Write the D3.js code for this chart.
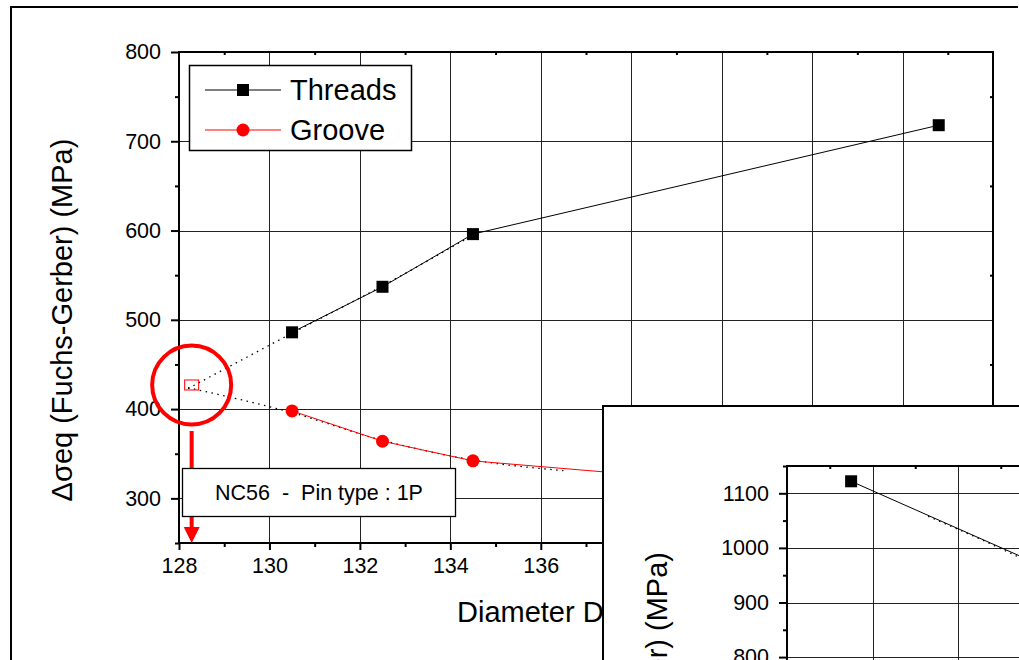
<!DOCTYPE html>
<html><head><meta charset="utf-8">
<script src="https://cdn.jsdelivr.net/npm/d3@7"></script>
<style>body{margin:0;background:#fff}svg{display:block}text{font-family:"Liberation Sans",Arial,sans-serif;fill:#000}</style>
</head><body><svg id="c" width="1019" height="660"></svg>
<script>
// ---- data ----
const threadsX = [130.5, 132.5, 134.5, 144.8];
const threadsY = [486, 537, 596, 718];
const grooveX = [130.5, 132.5, 134.5, 144.8];
const grooveY = [398, 364, 342, 298];
const threadsFitX = [128.2, 130.5, 132.5, 134.5];
const threadsFitY = [423, 485, 538, 595];
const grooveFitX = [128.2, 130.5, 132.5, 134.5, 136.5];
const grooveFitY = [424, 396, 365, 343, 331];
const xMajor = [128, 130, 132, 134, 136, 138, 140, 142, 144, 146];
const xMinor = [129, 131, 133, 135, 137, 139, 141, 143, 145];
const yMajor = [300, 400, 500, 600, 700, 800];
const yMinor = [250, 350, 450, 550, 650, 750];
const legendLabels = ["Threads", "Groove"];
const annotationText = "NC56  -  Pin type : 1P";
const xTitle = "Diameter D (mm)";
const yTitle = "\u0394\u03c3eq (Fuchs-Gerber) (MPa)";
const extrapX = 128.28, extrapY = 427;
// inset
const insetX = [129.5, 134.0];
const insetY = [1122, 966];
const insetFitX = [131.3, 132.5, 133.4, 134.0];
const insetFitY = [1058, 1017, 984, 963];
const insetYMajor = [800, 900, 1000, 1100];
const insetYMinor = [850, 950, 1050, 1150];
const insetXMajor = [128, 130, 132, 134];
const insetXMinor = [129, 131, 133];

const svg = d3.select("#c");
const FONT = '"Liberation Sans",Arial,sans-serif';

// scales
const x = d3.scaleLinear().domain([128, 146]).range([179, 993]);
const y = d3.scaleLinear().domain([250, 800]).range([543, 52]);
const L = x.range()[0], R = x.range()[1], T = y.range()[1], B = y.range()[0];

// outer border
svg.append("path").attr("d", "M11,700V7H1018").attr("fill", "none").attr("stroke", "#000").attr("stroke-width", 2);

// grid
const g = svg.append("g");
g.selectAll(".vg").data(xMajor.filter(d => d > 128 && d < 146)).join("line")
  .attr("x1", d => Math.round(x(d)) + 0.5).attr("x2", d => Math.round(x(d)) + 0.5)
  .attr("y1", T).attr("y2", B).attr("stroke", "#222").attr("stroke-width", 1);
g.selectAll(".hg").data(yMajor.filter(d => d < 800)).join("line")
  .attr("y1", d => Math.round(y(d)) + 0.5).attr("y2", d => Math.round(y(d)) + 0.5)
  .attr("x1", L).attr("x2", R).attr("stroke", "#222").attr("stroke-width", 1);

// axes
function styleAxis(sel) {
  sel.select(".domain").remove();
  sel.selectAll("line").attr("stroke", "#000").attr("stroke-width", 2);
  sel.selectAll("text").attr("font-size", 21.5).attr("font-family", FONT).attr("fill", "#000");
}
svg.append("g").attr("transform", `translate(0,${B})`)
  .call(d3.axisBottom(x).tickValues(xMajor).tickSize(7).tickPadding(8).tickFormat(d3.format("d"))).call(styleAxis);
svg.append("g").attr("transform", `translate(0,${B})`)
  .call(d3.axisBottom(x).tickValues(xMinor).tickSize(4).tickFormat("")).call(styleAxis);
svg.append("g").attr("transform", `translate(${L},0)`)
  .call(d3.axisLeft(y).tickValues(yMajor).tickSize(8).tickPadding(10).tickFormat(d3.format("d"))).call(styleAxis);
svg.append("g").attr("transform", `translate(${L},0)`)
  .call(d3.axisLeft(y).tickValues(yMinor).tickSize(4).tickFormat("")).call(styleAxis);
svg.append("g").attr("transform", `translate(0,${T})`)
  .call(d3.axisBottom(x).tickValues(xMinor).tickSize(3).tickFormat("")).call(styleAxis);
svg.append("g").attr("transform", `translate(${R},0)`)
  .call(d3.axisLeft(y).tickValues(yMinor).tickSize(3).tickFormat("")).call(styleAxis);

// frame
svg.append("rect").attr("x", L).attr("y", T).attr("width", R - L).attr("height", B - T)
  .attr("fill", "none").attr("stroke", "#000").attr("stroke-width", 2);

// fits (dotted)
const line = d3.line().x(d => x(d[0])).y(d => y(d[1])).curve(d3.curveMonotoneX);
svg.append("path").attr("d", line(d3.zip(threadsFitX, threadsFitY))).attr("fill", "none")
  .attr("stroke", "#000").attr("stroke-width", 1.3).attr("stroke-dasharray", "1.5,4.5");
svg.append("path").attr("d", line(d3.zip(grooveFitX, grooveFitY))).attr("fill", "none")
  .attr("stroke", "#000").attr("stroke-width", 1.3).attr("stroke-dasharray", "1.5,4.5");

// data lines
const lin = d3.line().x(d => x(d[0])).y(d => y(d[1]));
svg.append("path").attr("d", lin(d3.zip(threadsX, threadsY))).attr("fill", "none").attr("stroke", "#000").attr("stroke-width", 1);
svg.append("path").attr("d", lin(d3.zip(grooveX, grooveY))).attr("fill", "none").attr("stroke", "#f00").attr("stroke-width", 1);
svg.selectAll(".sq").data(d3.zip(threadsX, threadsY)).join("rect")
  .attr("x", d => x(d[0]) - 6).attr("y", d => y(d[1]) - 6).attr("width", 12).attr("height", 12).attr("fill", "#000");
svg.selectAll(".ci").data(d3.zip(grooveX, grooveY)).join("circle")
  .attr("cx", d => x(d[0])).attr("cy", d => y(d[1])).attr("r", 6.5).attr("fill", "#f00");

// legend
const lg = svg.append("g");
lg.append("rect").attr("x", 189.5).attr("y", 65.5).attr("width", 222).attr("height", 85)
  .attr("fill", "#fff").attr("stroke", "#000").attr("stroke-width", 1.5);
const legY = [90, 130], legCol = ["#000", "#f00"];
legendLabels.forEach((lab, i) => {
  lg.append("line").attr("x1", 205).attr("x2", 281).attr("y1", legY[i]).attr("y2", legY[i]).attr("stroke", legCol[i]).attr("stroke-width", 1);
  if (i === 0) lg.append("rect").attr("x", 237).attr("y", legY[i] - 6).attr("width", 12).attr("height", 12).attr("fill", "#000");
  else lg.append("circle").attr("cx", 243).attr("cy", legY[i]).attr("r", 6.5).attr("fill", "#f00");
  lg.append("text").attr("x", 290).attr("y", legY[i] + 10).attr("font-size", 29).text(lab);
});

// annotation: extrapolated point, circle, arrow
const ex = x(extrapX), ey = y(extrapY);
svg.append("rect").attr("x", ex - 7).attr("y", ey - 5).attr("width", 14).attr("height", 10)
  .attr("fill", "none").attr("stroke", "#f00").attr("stroke-width", 1);
svg.append("circle").attr("cx", ex).attr("cy", ey).attr("r", 39.5).attr("fill", "none").attr("stroke", "#f00").attr("stroke-width", 4);
svg.append("line").attr("x1", ex).attr("x2", ex).attr("y1", ey + 46).attr("y2", B - 14).attr("stroke", "#f00").attr("stroke-width", 4);
svg.append("path").attr("d", `M${ex - 8},${B - 16}L${ex + 8},${B - 16}L${ex},${B}Z`).attr("fill", "#f00");

// annotation box
svg.append("rect").attr("x", 182.5).attr("y", 468.5).attr("width", 273).attr("height", 48)
  .attr("fill", "#fff").attr("stroke", "#000").attr("stroke-width", 1.3);
svg.append("text").attr("x", 319).attr("y", 500).attr("text-anchor", "middle").attr("font-size", 21.5)
  .style("white-space", "pre").text(annotationText);

// titles
svg.append("text").attr("x", 457).attr("y", 622).attr("font-size", 29).text(xTitle);
svg.append("text").attr("transform", "translate(72,320) rotate(-90)").attr("text-anchor", "middle").attr("font-size", 29).text(yTitle);

// ---- inset ----
const ig = svg.append("g");
ig.append("rect").attr("x", 603).attr("y", 406).attr("width", 600).attr("height", 400)
  .attr("fill", "#fff").attr("stroke", "#000").attr("stroke-width", 2);
const ix = d3.scaleLinear().domain([128, 146]).range([787, 787 + 9 * 85.5]);
const iy = d3.scaleLinear().domain([1150, 800]).range([466, 466 + 3.5 * 54.6]);
const iL = 787, iT = 466;
ig.selectAll(".ivg").data(insetXMajor.filter(d => d > 128)).join("line")
  .attr("x1", d => Math.round(ix(d)) + 0.5).attr("x2", d => Math.round(ix(d)) + 0.5)
  .attr("y1", iT).attr("y2", 700).attr("stroke", "#222");
ig.selectAll(".ihg").data(insetYMajor).join("line")
  .attr("y1", d => Math.round(iy(d)) + 0.5).attr("y2", d => Math.round(iy(d)) + 0.5)
  .attr("x1", iL).attr("x2", 1100).attr("stroke", "#222");
ig.append("g").attr("transform", `translate(${iL},0)`)
  .call(d3.axisLeft(iy).tickValues(insetYMajor).tickSize(8).tickPadding(10).tickFormat(d3.format("d"))).call(styleAxis);
ig.append("g").attr("transform", `translate(${iL},0)`)
  .call(d3.axisLeft(iy).tickValues(insetYMinor).tickSize(4).tickFormat("")).call(styleAxis);
ig.append("g").attr("transform", `translate(0,${iT})`)
  .call(d3.axisBottom(ix).tickValues(insetXMinor).tickSize(3).tickFormat("")).call(styleAxis);
ig.append("path").attr("d", `M${iL},700V${iT}H1100`).attr("fill", "none").attr("stroke", "#000").attr("stroke-width", 2);
ig.append("path").attr("d", d3.line().x(d => ix(d[0])).y(d => iy(d[1]))(d3.zip(insetFitX, insetFitY)))
  .attr("fill", "none").attr("stroke", "#000").attr("stroke-width", 1.3).attr("stroke-dasharray", "1.5,4.5");
ig.append("path").attr("d", d3.line().x(d => ix(d[0])).y(d => iy(d[1]))(d3.zip(insetX, insetY)))
  .attr("fill", "none").attr("stroke", "#000").attr("stroke-width", 1);
ig.selectAll(".isq").data(d3.zip(insetX, insetY)).join("rect")
  .attr("x", d => ix(d[0]) - 6).attr("y", d => iy(d[1]) - 6).attr("width", 12).attr("height", 12).attr("fill", "#000");
ig.append("text").attr("transform", "translate(667,552) rotate(-90)").attr("text-anchor", "end").attr("font-size", 29).text(yTitle);
</script></body></html>
